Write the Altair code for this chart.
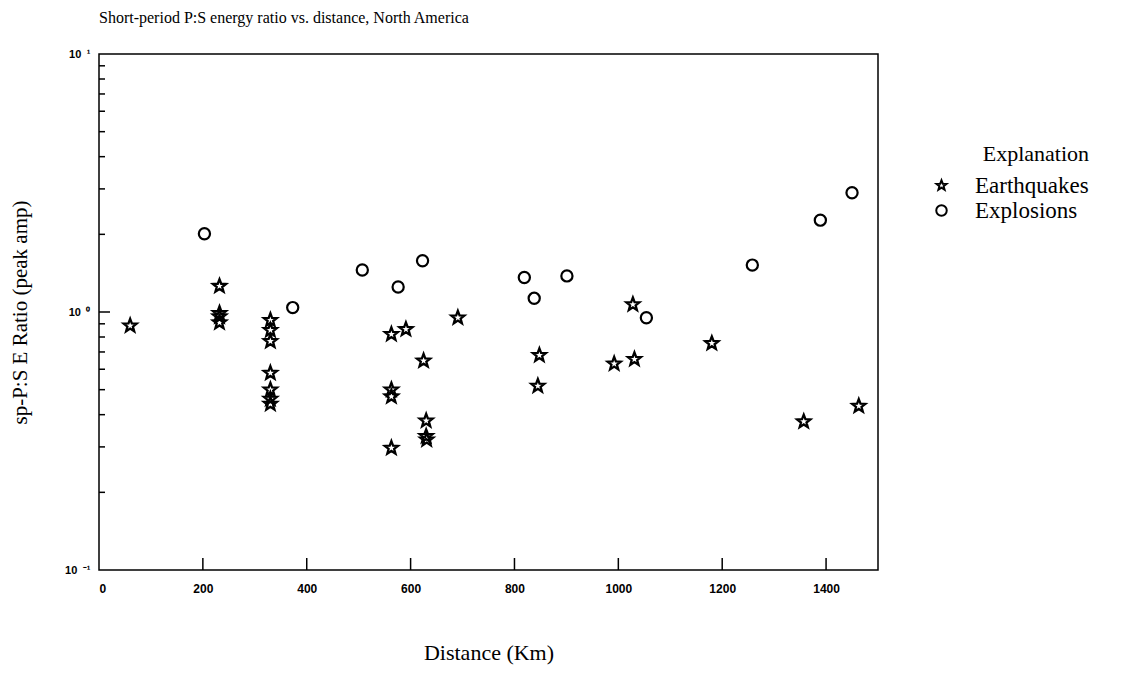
import altair as alt
import pandas as pd

# ---- data ----
eq_dist = [60, 232, 232, 232, 232, 330, 330, 330, 330, 330, 330, 330,
           563, 563, 563, 563, 591, 625, 630, 630, 631, 691, 845, 848,
           992, 1028, 1031, 1180, 1357, 1463]
eq_ratio = [0.885, 1.26, 0.99, 0.96, 0.91, 0.93, 0.85, 0.77, 0.58, 0.50, 0.46, 0.44,
            0.82, 0.50, 0.47, 0.297, 0.857, 0.647, 0.379, 0.33, 0.32, 0.95, 0.517, 0.68,
            0.63, 1.07, 0.656, 0.756, 0.376, 0.432]
ex_dist = [203, 373, 507, 576, 623, 819, 838, 901, 1054, 1258, 1389, 1450]
ex_ratio = [2.01, 1.04, 1.455, 1.25, 1.58, 1.36, 1.13, 1.38, 0.95, 1.52, 2.27, 2.90]

x_tick_values = [200, 400, 600, 800, 1000, 1200, 1400]
x_label_values = [0, 200, 400, 600, 800, 1000, 1200, 1400]
y_major = [1]
y_minor = [0.2, 0.3, 0.4, 0.5, 0.6, 0.7, 0.8, 0.9, 2, 3, 4, 5, 6, 7, 8, 9]
categories = ["Earthquakes", "Explosions"]

pts = pd.DataFrame({
    "dist": eq_dist + ex_dist,
    "ratio": eq_ratio + ex_ratio,
    "kind": ["Earthquakes"] * len(eq_dist) + ["Explosions"] * len(ex_dist),
})

SERIF = "Liberation Serif"
SANS = "Liberation Sans"

# five-pointed star outline as a Vega custom symbol path (unit space)
STAR = ("M0,-1L0.247,-0.34L0.951,-0.309L0.399,0.13L0.588,0.809L0,0.42"
        "L-0.588,0.809L-0.399,0.13L-0.951,-0.309L-0.247,-0.34Z")

xscale = alt.Scale(domain=[0, 1500], nice=False, zero=False)
yscale = alt.Scale(type="log", domain=[0.1, 10], nice=False)

xaxis = alt.Axis(values=x_label_values, title="Distance (Km)", grid=False, ticks=False,
                 domain=False, labelFont=SANS, labelFontWeight="bold", labelFontSize=12,
                 labelPadding=13, titleFont=SERIF, titleFontSize=22, titleFontWeight="normal",
                 titlePadding=48, labelColor="black", titleColor="black", format="d")
yaxis = alt.Axis(values=[0.1, 1, 10], title="sp-P:S E Ratio (peak amp)", grid=False,
                 ticks=False, domain=False,
                 labelExpr="datum.value >= 5 ? '10\u2002\u00b9' : (datum.value >= 0.5 ? '10\u2002\u2070' : '10\u2002\u207b\u00b9')",
                 labelFont=SANS, labelFontWeight="bold", labelFontSize=11, labelPadding=9,
                 titleFont=SERIF, titleFontSize=21, titleFontWeight="normal", titlePadding=34,
                 labelColor="black", titleColor="black")

X = alt.X("dist:Q", scale=xscale, axis=xaxis)
Y = alt.Y("ratio:Q", scale=yscale, axis=yaxis)

SHAPE = alt.Shape("kind:N", scale=alt.Scale(domain=categories, range=[STAR, "circle"]),
                  legend=alt.Legend(title="Explanation", orient="none", legendX=831, legendY=90,
                                    titleFont=SERIF, titleFontSize=22, titleFontWeight="normal",
                                    titleAnchor="end", titlePadding=8, labelFont=SERIF,
                                    labelFontSize=23, labelOffset=22, symbolSize=110,
                                    symbolStrokeWidth=2, symbolStrokeColor="black",
                                    symbolFillColor="white", rowPadding=1,
                                    labelColor="black", titleColor="black"))

base = alt.Chart(pts)
stars = base.transform_filter(alt.datum.kind == "Earthquakes").mark_point(
    filled=False, color="black", strokeWidth=2.3, opacity=1, size=190).encode(x=X, y=Y, shape=SHAPE)
circles = base.transform_filter(alt.datum.kind == "Explosions").mark_point(
    filled=False, color="black", strokeWidth=2.2, opacity=1, size=125).encode(x=X, y=Y, shape=SHAPE)

xt = alt.Chart(pd.DataFrame({"dist": x_tick_values})).mark_rule(color="black", strokeWidth=1.5).encode(
    x=X, y=alt.value(516), y2=alt.value(504))
ymaj = alt.Chart(pd.DataFrame({"ratio": y_major})).mark_rule(color="black", strokeWidth=1.5).encode(
    y=Y, x=alt.value(0), x2=alt.value(11))
ymin = alt.Chart(pd.DataFrame({"ratio": y_minor})).mark_rule(color="black", strokeWidth=1.5).encode(
    y=Y, x=alt.value(0), x2=alt.value(6))

chart = alt.layer(xt, ymaj, ymin, stars, circles).properties(
    width=779, height=516,
    title=alt.TitleParams("Short-period P:S energy ratio vs. distance, North America",
                          anchor="start", frame="group", font=SERIF, fontSize=16,
                          fontWeight="normal", color="black", offset=22),
    autosize=alt.AutoSizeParams(type="none"),
    padding={"left": 91, "top": 46, "right": 252, "bottom": 99},
    background="white",
).configure_view(stroke="black", strokeWidth=1.5)

chart.save("out.html", embed_options={"renderer": "svg", "actions": False})
